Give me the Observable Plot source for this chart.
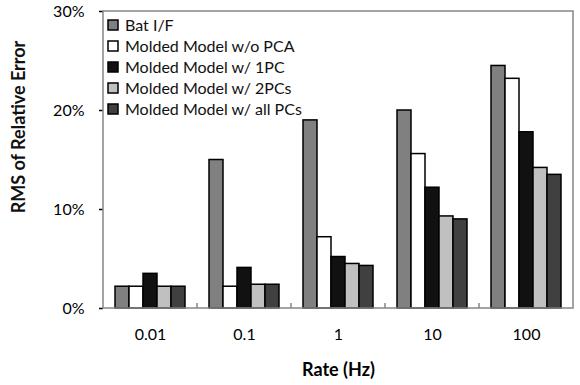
<!DOCTYPE html>
<html><head><meta charset="utf-8">
<script src="https://cdn.jsdelivr.net/npm/d3@7"></script>
<script src="https://cdn.jsdelivr.net/npm/@observablehq/plot@0.6"></script>
<style>body{margin:0;background:#fff}</style>
</head><body><div id="chart"></div>
<script>
const rates = ["0.01", "0.1", "1", "10", "100"];
const series = ["Bat I/F", "Molded Model w/o PCA", "Molded Model w/ 1PC", "Molded Model w/ 2PCs", "Molded Model w/ all PCs"];
const colors = ["#808080", "#ffffff", "#111111", "#c0c0c0", "#404040"];
const batIF   = [2.2, 15.0, 19.0, 20.0, 24.5];
const noPCA   = [2.2, 2.2, 7.2, 15.6, 23.2];
const onePC   = [3.5, 4.1, 5.2, 12.2, 17.8];
const twoPCs  = [2.2, 2.4, 4.5, 9.3, 14.2];
const allPCs  = [2.2, 2.4, 4.3, 9.0, 13.5];
const yTicks = [0, 10, 20, 30];
const xTitle = "Rate (Hz)";
const yTitle = "RMS of Relative Error";

const values = [batIF, noPCA, onePC, twoPCs, allPCs];
const data = [];
rates.forEach((r, i) => series.forEach((s, j) => data.push({rate: r, series: s, value: values[j][i]})));

const FONT = "Lato, 'Open Sans', sans-serif";
const plot = Plot.plot({
  width: 580, height: 385,
  marginLeft: 102, marginRight: 7, marginTop: 11, marginBottom: 77,
  style: {fontFamily: FONT, fontSize: "16px"},
  facet: {data, x: "rate"},
  fx: {domain: rates, padding: 0, label: null},
  x: {domain: series, paddingInner: 0, paddingOuter: 0.75, axis: null},
  y: {domain: [0, 30], ticks: yTicks, label: null},
  color: {domain: series, range: colors},
  marks: [
    Plot.axisFx({anchor: "bottom", tickSize: 0, tickPadding: 20, label: xTitle, labelArrow: "none", labelAnchor: "center", labelOffset: 67}),
    Plot.axisY({ticks: yTicks, tickFormat: d => d + "%", tickSize: 4, tickPadding: 15, label: null}),
    Plot.barY(data, {x: "series", y: "value", fill: "series", stroke: "#000", strokeWidth: 1.5})
  ]
});
document.getElementById("chart").appendChild(plot);

const svg = d3.select(plot);
svg.selectAll('[aria-label="y-axis tick"]').attr("stroke", "#868686").attr("stroke-width", 1.5);
svg.selectAll('[aria-label="fx-axis label"], [aria-label="fx-axis label"] text').attr("font-weight", "bold").attr("font-size", 18);

// y title
svg.append("text").attr("transform", "translate(19,127) rotate(-90)")
  .attr("text-anchor", "middle").attr("dy", "0.35em")
  .attr("font-family", FONT).attr("font-size", 18).attr("font-weight", "bold").attr("fill", "#111")
  .text(yTitle);

const fx = plot.scale("fx"), y = plot.scale("y");
const x0 = fx.apply(rates[0]), x1 = fx.apply(rates[rates.length - 1]) + fx.bandwidth;
const yTop = y.apply(30), yBot = y.apply(0);
const g = svg.append("g").attr("fill", "none").attr("stroke", "#868686").attr("stroke-width", 1.5);
g.append("rect").attr("x", x0).attr("y", yTop).attr("width", x1 - x0).attr("height", yBot - yTop);
rates.slice(1).forEach(r => {
  const xx = fx.apply(r);
  g.append("line").attr("x1", xx).attr("x2", xx).attr("y1", yBot - 5).attr("y2", yBot);
});

// legend inside plot area
const lg = svg.append("g").attr("font-family", FONT).attr("font-size", 16).attr("text-anchor", "start");
series.forEach((s, i) => {
  const cy = 25 + i * 21;
  lg.append("rect").attr("x", x0 + 5).attr("y", cy - 5).attr("width", 10).attr("height", 10)
    .attr("fill", colors[i]).attr("stroke", "#000").attr("stroke-width", 1.5);
  lg.append("text").attr("x", x0 + 22).attr("y", cy).attr("dy", "0.35em").attr("fill", "#111").text(s);
});
</script></body></html>
